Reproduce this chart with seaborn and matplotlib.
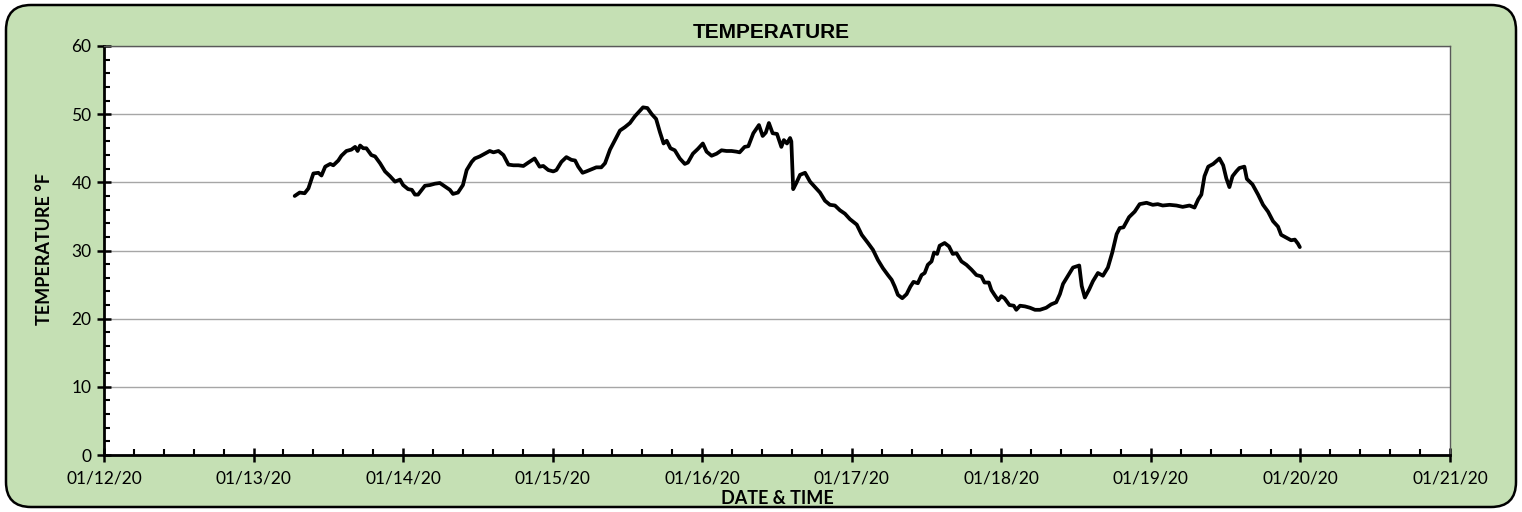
import numpy as np
import pandas as pd
import seaborn as sns
import matplotlib.pyplot as plt
import matplotlib.dates as mdates
from matplotlib.ticker import MultipleLocator
from matplotlib.patches import FancyBboxPatch

# hours since 01/12/20 00:00
hours = [
    30.6, 31.4, 32.2, 32.8, 33.6, 34.4, 34.9, 35.5, 36.3, 36.8, 37.6, 38.1, 38.9, 39.7,
    40.3, 40.7, 41.1, 41.6, 42.1, 42.9, 43.5, 44.3, 45.1, 45.9, 46.7, 47.5, 48.0, 48.8,
    49.4, 49.9, 50.4, 51.0, 51.5, 52.3, 53.1, 53.9, 54.7, 55.5, 56.0, 56.8, 57.6, 58.2,
    59.0, 59.5, 60.3, 61.1, 61.9, 62.5, 63.3, 64.1, 64.9, 65.7, 66.5, 67.3, 68.1, 69.1,
    69.9, 70.5, 71.3, 72.1, 72.6, 73.4, 74.2, 75.0, 75.6, 76.1, 76.8, 77.4, 78.2, 79.0,
    79.8, 80.4, 81.2, 82.0, 82.8, 83.6, 84.4, 85.2, 86.0, 86.5, 87.2, 87.9, 88.6, 89.2,
    89.8, 90.3, 90.9, 91.6, 92.4, 93.2, 93.7, 94.5, 95.3, 96.1, 96.7, 97.5, 98.3, 99.1,
    99.9, 100.7, 101.5, 102.0, 102.8, 103.4, 104.2, 105.1, 105.7, 106.2, 106.7, 107.3,
    108.0, 108.7, 109.1, 109.6, 110.1, 110.3, 110.6, 111.1, 111.7, 112.5, 113.3, 114.1,
    114.9, 115.7, 116.5, 117.3, 118.1, 118.9, 119.7, 120.8, 121.6, 122.6, 123.4, 124.2,
    125.0, 125.8, 126.4, 126.9, 127.4, 128.1, 128.8, 129.4, 129.9, 130.6, 131.2, 131.7,
    132.2, 132.8, 133.2, 133.7, 134.1, 134.9, 135.6, 136.2, 136.8, 137.6, 138.4, 139.2,
    140.0, 140.8, 141.3, 142.0, 142.4, 142.9, 143.5, 144.0, 144.5, 145.3, 146.0, 146.4,
    147.0, 147.8, 148.6, 149.4, 150.2, 151.2, 152.0, 152.8, 153.4, 153.9, 154.7, 155.5,
    156.5, 156.9, 157.4, 158.1, 158.7, 159.5, 160.3, 161.1, 161.8, 162.5, 163.0, 163.6,
    164.5, 165.4, 166.2, 167.3, 168.3, 169.1, 169.9, 171.0, 172.1, 173.1, 174.2, 175.0,
    175.6, 176.1, 176.6, 177.2, 178.0, 179.0, 179.6, 180.1, 180.6, 181.1, 181.7, 182.2,
    183.0, 183.4, 184.3, 185.2, 186.0, 186.8, 187.6, 188.4, 188.9, 189.7, 190.5, 191.1,
    191.6, 191.9,
]
temps = [
    38.0, 38.5, 38.4, 39.1, 41.3, 41.4, 41.0, 42.3, 42.7, 42.5, 43.2, 43.9, 44.6, 44.8,
    45.2, 44.6, 45.4, 45.0, 45.0, 44.0, 43.8, 42.8, 41.6, 40.9, 40.1, 40.4, 39.6, 39.0,
    38.9, 38.2, 38.2, 38.9, 39.5, 39.6, 39.8, 39.9, 39.4, 38.9, 38.3, 38.5, 39.6, 41.8,
    43.0, 43.5, 43.8, 44.2, 44.6, 44.4, 44.6, 44.0, 42.6, 42.5, 42.5, 42.4, 42.9, 43.5,
    42.3, 42.4, 41.8, 41.6, 41.8, 43.0, 43.7, 43.3, 43.2, 42.3, 41.4, 41.6, 41.9, 42.2,
    42.2, 42.8, 44.8, 46.2, 47.6, 48.1, 48.7, 49.7, 50.5, 51.0, 50.9, 50.0, 49.3, 47.4,
    45.7, 46.1, 45.0, 44.7, 43.5, 42.7, 42.9, 44.2, 44.9, 45.7, 44.5, 43.9, 44.2, 44.7,
    44.6, 44.6, 44.5, 44.4, 45.2, 45.3, 47.2, 48.4, 46.8, 47.3, 48.7, 47.2,
    47.1, 45.2, 46.2, 45.7, 46.5, 46.0, 39.0, 39.9, 41.1, 41.4, 40.1, 39.3,
    38.5, 37.3, 36.7, 36.6, 35.9, 35.4, 34.6, 33.8, 32.3, 31.1, 30.1, 28.6,
    27.4, 26.4, 25.7, 24.7, 23.5, 23.0, 23.6, 24.7, 25.4, 25.2, 26.4, 26.7,
    27.9, 28.4, 29.7, 29.5, 30.7, 31.1, 30.6, 29.5, 29.6, 28.4, 27.9, 27.2,
    26.4, 26.2, 25.3, 25.3, 24.2, 23.5, 22.7, 23.3, 23.0, 22.0, 21.9, 21.3,
    21.9, 21.8, 21.6, 21.3, 21.3, 21.6, 22.1, 22.4, 23.6, 25.1, 26.3, 27.5,
    27.8, 24.8, 23.1, 24.3, 25.5, 26.7, 26.3, 27.5, 29.7, 32.4, 33.3, 33.4,
    34.9, 35.7, 36.8, 37.0, 36.7, 36.8, 36.6, 36.7, 36.6, 36.4, 36.6, 36.3,
    37.5, 38.2, 40.9, 42.3, 42.7, 43.5, 42.5, 40.6, 39.3, 40.9, 41.6, 42.1,
    42.3, 40.5, 39.7, 38.2, 36.7, 35.7, 34.3, 33.5, 32.3, 31.9, 31.5, 31.6,
    31.0, 30.5,
]

start = pd.Timestamp("2020-01-12")
df = pd.DataFrame({
    "time": start + pd.to_timedelta(hours, unit="h"),
    "temp": temps,
})

sns.set_theme(style="white")
plt.rcParams["font.family"] = ["Lato", "DejaVu Sans"]
plt.rcParams["text.color"] = "black"

W, H = 1522, 512
fig = plt.figure(figsize=(W / 100, H / 100), dpi=100)
fig.patch.set_facecolor("white")

# green rounded chart area (coordinates in inches)
bg = FancyBboxPatch((0.06, 0.05), 15.10, 5.02,
                    boxstyle="round,pad=0,rounding_size=0.25",
                    transform=fig.dpi_scale_trans, facecolor="#C5E0B4",
                    edgecolor="black", linewidth=1.8, zorder=-10)
fig.patches.append(bg)

ax = fig.add_axes([104 / W, 57 / H, 1346 / W, 409 / H])
ax.set_zorder(5)
ax.set_facecolor("white")

sns.lineplot(data=df, x="time", y="temp", ax=ax, color="black",
             linewidth=2.7, estimator=None)

ax.set_xlim(mdates.date2num(pd.Timestamp("2020-01-12")),
            mdates.date2num(pd.Timestamp("2020-01-21")))
ax.set_ylim(0, 60)

ax.xaxis.set_major_locator(MultipleLocator(1))
ax.xaxis.set_minor_locator(MultipleLocator(0.2))
ax.xaxis.set_major_formatter(mdates.DateFormatter("%m/%d/%y"))
ax.yaxis.set_major_locator(MultipleLocator(10))
ax.yaxis.set_minor_locator(MultipleLocator(2))

ax.grid(axis="y", which="major", color="#A6A6A6", linewidth=1.0)
ax.set_axisbelow(True)

for side in ["left", "bottom"]:
    ax.spines[side].set_color("black")
    ax.spines[side].set_linewidth(2.0)
for side in ["top", "right"]:
    ax.spines[side].set_color("#595959")
    ax.spines[side].set_linewidth(1.0)

ax.tick_params(which="major", direction="inout", length=10, width=1.8,
               color="black", labelsize=12.5, labelcolor="black")
ax.tick_params(which="minor", direction="in", length=4, width=1.5, color="black")
ax.tick_params(axis="x", which="major", pad=6)
ax.tick_params(axis="y", which="major", pad=4)
ax.tick_params(which="both", bottom=True, left=True, top=False, right=False)

ax.set_xlabel("")
ax.set_ylabel("")

fig.text(771 / W, 1 - 33 / H, "TEMPERATURE", ha="center", va="center",
         fontsize=15, fontweight="bold", color="black",
         family=["Liberation Sans", "DejaVu Sans"], zorder=10)
fig.text(777 / W, 1 - 498 / H, "DATE & TIME", ha="center", va="center",
         fontsize=13, fontweight="bold", color="black", zorder=10)
fig.text(45 / W, 1 - 249 / H, "TEMPERATURE °F", ha="center", va="center",
         rotation=90, fontsize=13, fontweight="bold", color="black", zorder=10)

fig.savefig("out.png", dpi=100)
